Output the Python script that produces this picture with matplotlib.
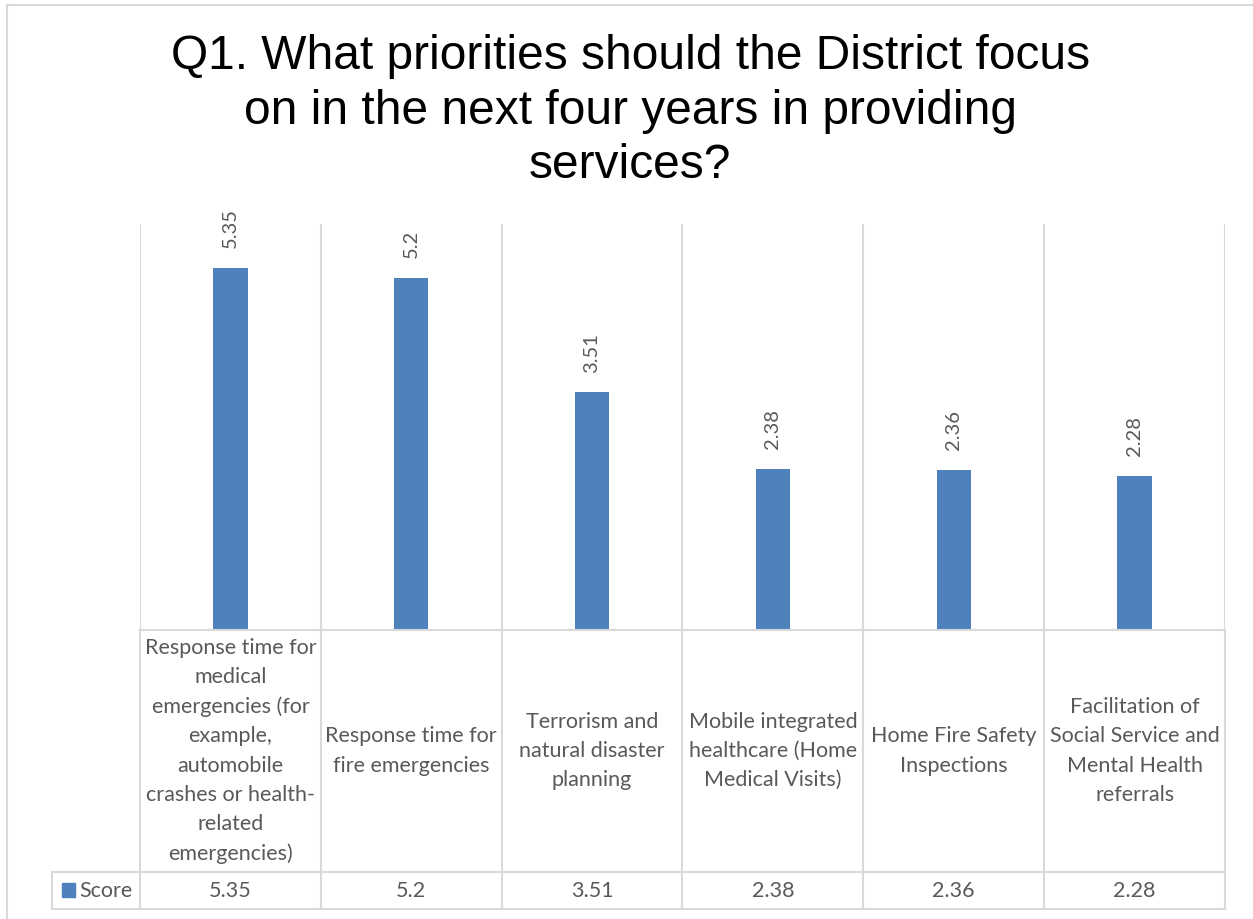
import matplotlib.pyplot as plt
from matplotlib.patches import Rectangle

categories = [
    "Response time for\nmedical\nemergencies (for\nexample,\nautomobile\ncrashes or health-\nrelated\nemergencies)",
    "Response time for\nfire emergencies",
    "Terrorism and\nnatural disaster\nplanning",
    "Mobile integrated\nhealthcare (Home\nMedical Visits)",
    "Home Fire Safety\nInspections",
    "Facilitation of\nSocial Service and\nMental Health\nreferrals",
]
scores = [5.35, 5.2, 3.51, 2.38, 2.36, 2.28]
series_name = "Score"
title = "Q1. What priorities should the District focus\non in the next four years in providing\nservices?"

W, H = 1253, 920
BAR = "#4F81BD"
GRID = "#D9D9D9"
TXT = "#595959"
LABEL_FONT = ["Lato", "DejaVu Sans"]
FS = 15.5

fig = plt.figure(figsize=(W / 100, H / 100), dpi=100)

def px_axes(x0, y0, x1, y1):
    # axes placed by pixel box (top-left origin)
    return fig.add_axes([x0 / W, 1 - y1 / H, (x1 - x0) / W, (y1 - y0) / H])

# chart border
fig.patches.append(Rectangle((7 / W, -0.1), 1.2, 1 - 6 / H + 0.1, transform=fig.transFigure,
                             fill=False, edgecolor=GRID, linewidth=1.5))

fig.text(0.503, 1 - 111 / H, title, ha="center", va="center", fontsize=34.5,
         family="Liberation Sans", linespacing=1.27, color="black")

n = len(scores)
x = list(range(n))

ax = px_axes(140, 225, 1225, 631)
ax.bar(x, scores, width=0.19, color=BAR, zorder=3)
ax.set_xlim(-0.5, n - 0.5)
ax.set_ylim(0, 6)
for b in range(n + 1):
    ax.axvline(b - 0.5, color=GRID, linewidth=1.5, zorder=1)
for xi, v in zip(x, scores):
    ax.annotate(f"{v:g}", (xi, v), xytext=(0, 15), textcoords="offset points",
                rotation=90, ha="center", va="bottom", fontsize=14.5,
                color=TXT, family=LABEL_FONT)
for s in ax.spines.values():
    s.set_visible(False)
ax.set_xticks([])
ax.set_yticks([])

# data table below the plot
tax = px_axes(140, 631, 1225, 910)
tax.set_xlim(-0.5, n - 0.5)
tax.set_ylim(279, 0)
tax.axis("off")
left = -0.5 - 88 / 181
lw = 1.5
tax.plot([-0.5, n - 0.5], [0, 0], color=GRID, lw=lw, clip_on=False)
tax.plot([left, n - 0.5], [242, 242], color=GRID, lw=lw, clip_on=False)
tax.plot([left, n - 0.5], [279, 279], color=GRID, lw=lw, clip_on=False)
tax.plot([left, left], [242, 279], color=GRID, lw=lw, clip_on=False)
for b in range(n + 1):
    tax.plot([b - 0.5, b - 0.5], [0, 279], color=GRID, lw=lw, clip_on=False)

for xi, cat, v in zip(x, categories, scores):
    tax.text(xi, 120, cat, ha="center", va="center", fontsize=FS, color=TXT,
             family=LABEL_FONT, linespacing=1.58, clip_on=False)
    tax.text(xi, 260.5, f"{v:g}", ha="center", va="center", fontsize=FS,
             color=TXT, family=LABEL_FONT, clip_on=False)

tax.add_patch(Rectangle((-0.5 - 78 / 181, 253), 13 / 181, 14, color=BAR, clip_on=False))
tax.text(-0.5 - 61 / 181, 260.5, series_name, ha="left", va="center", fontsize=FS,
         color=TXT, family=LABEL_FONT, clip_on=False)

fig.savefig("out.png", dpi=100)
